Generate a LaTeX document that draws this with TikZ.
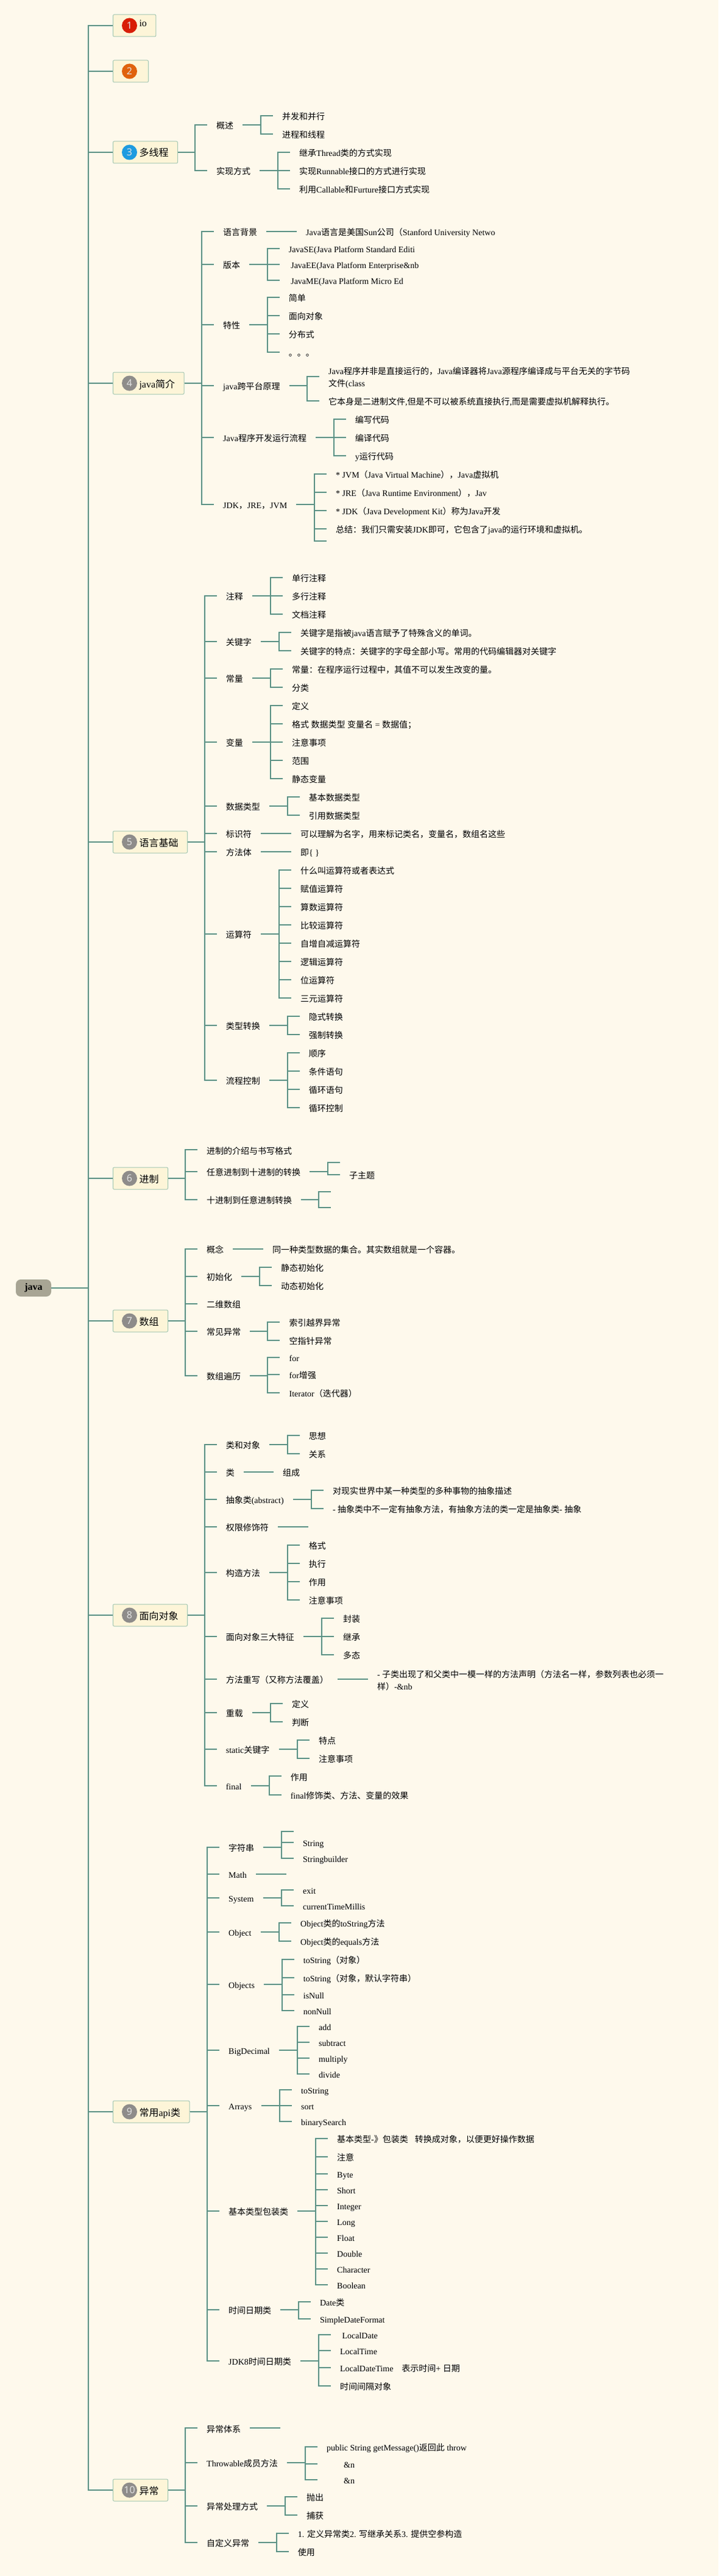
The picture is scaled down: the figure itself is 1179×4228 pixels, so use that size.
\documentclass[tikz,border=0pt]{standalone}
\usepackage{fontspec}
\setmainfont{Liberation Serif}
\newfontfamily\cjkfont{Noto Sans CJK SC}
\newfontfamily\digitfont{Noto Sans}
% chinese characters switch to the cjk font by themselves
\XeTeXinterchartokenstate=1
\newXeTeXintercharclass\cjkclass
\newcount\cjkcode
\cjkcode="2E80 \loop \XeTeXcharclass\cjkcode=\cjkclass \ifnum\cjkcode<"9FFF \advance\cjkcode by 1 \repeat
\cjkcode="FF00 \loop \XeTeXcharclass\cjkcode=\cjkclass \ifnum\cjkcode<"FFEF \advance\cjkcode by 1 \repeat
\XeTeXinterchartoks 0 \cjkclass={\cjkfont}
\XeTeXinterchartoks 4095 \cjkclass={\cjkfont}
\XeTeXinterchartoks \cjkclass 0={\rmfamily}
\XeTeXinterchartoks \cjkclass 4095={\rmfamily}
\definecolor{paper}{HTML}{FEF9EC}
\definecolor{linkcol}{HTML}{5B9184}
\definecolor{boxfill}{HTML}{FDF5D8}
\definecolor{boxline}{HTML}{A3C6B2}
\definecolor{rootfill}{HTML}{A8A594}
\definecolor{gray1}{HTML}{8E8C8A}
\definecolor{red1}{HTML}{D81E06}
\definecolor{orange1}{HTML}{E0620D}
\definecolor{blue1}{HTML}{1E9BE0}
\tikzset{
	link/.style={draw=linkcol,line width=2pt},
	item/.style={anchor=west,inner xsep=15pt,inner ysep=0pt,text height=15pt,text depth=1.4pt,font=\fontsize{14}{20}\selectfont,text=black},
	itemtwo/.style={anchor=west,inner xsep=15pt,inner ysep=0pt,align=left,font=\fontsize{14}{20}\selectfont,text=black},
	topic/.style={anchor=west,draw=boxline,line width=1pt,fill=boxfill,rounded corners=2pt,minimum height=36pt,inner xsep=15pt,inner ysep=0pt,text height=16pt,text depth=2pt,font=\fontsize{16}{20}\selectfont,execute at begin node={\hspace*{28pt}}},
	badge/.style={circle,minimum size=25pt,inner sep=0pt,text=white!88!black,font=\digitfont\fontsize{16}{16}\selectfont},
	rootbox/.style={fill=rootfill,rounded corners=8pt,minimum width=58pt,minimum height=28pt,inner sep=0pt,font=\bfseries\fontsize{16}{20}\selectfont}
}
\def\branch(#1)(#2){\foreach \kid in {#2}{\draw[link] (#1.east) -| ([xshift=-20pt]\kid.west) -- (\kid.west);}}

\begin{document}
\begin{tikzpicture}[x=1pt,y=-1pt]
	\fill[paper] (0,0) rectangle (1179,4228);
	\useasboundingbox (0,0) rectangle (1179,4228);

	%%%%% ROOT AND TOPICS %%%%%
	\node[rootbox] (root) at (55,2114) {java};
	\node[topic] (t1) at (185,42) {\raisebox{5pt}{io}};
	\node[topic] (t2) at (185,117) {};
	\node[topic] (t3) at (185,250) {多线程};
	\node[topic] (t4) at (185,629) {java简介};
	\node[topic] (t5) at (185,1382) {语言基础};
	\node[topic] (t6) at (185,1934) {进制};
	\node[topic] (t7) at (185,2168) {数组};
	\node[topic] (t8) at (185,2651) {面向对象};
	\node[topic] (t9) at (185,3466) {常用api类};
	\node[topic] (t10) at (185,4087) {异常};

	\node[badge,fill=red1] (n1) at ([xshift=27.5pt]t1.west) {1};
	\node[badge,fill=orange1] (n2) at ([xshift=27.5pt]t2.west) {2};
	\node[badge,fill=blue1] (n3) at ([xshift=27.5pt]t3.west) {3};
	\foreach \i in {4,...,10}
		\node[badge,fill=gray1] (n\i) at ([xshift=27.5pt]t\i.west) {\i};

	\foreach \kid in {t1,t2,t3,t4,t5,t6,t7,t8,t9,t10}
		\draw[link] (root.east) -| ([xshift=-40pt]\kid.west) -- (\kid.west);

	%%%%% 3 %%%%%
	\node[item] (t3a) at (340,204.7) {概述};
	\node[item] (t3b) at (340,280) {实现方式};
	\node[item] (t3a1) at (448,189.7) {并发和并行};
	\node[item] (t3a2) at (448,220) {进程和线程};
	\node[item] (t3b1) at (476,249.7) {继承Thread类的方式实现};
	\node[item] (t3b2) at (476,280) {实现Runnable接口的方式进行实现};
	\node[item] (t3b3) at (476,310) {利用Callable和Furture接口方式实现};
	\branch(t3)(t3a,t3b)
	\branch(t3a)(t3a1,t3a2)
	\branch(t3b)(t3b1,t3b2,t3b3)

	%%%%% 4 %%%%%
	\node[item] (t4a) at (351,380) {语言背景};
	\node[item] (t4b) at (351,433.6) {版本};
	\node[item] (t4c) at (351,532.9) {特性};
	\node[item] (t4d) at (351,632.9) {java跨平台原理};
	\node[item] (t4e) at (351,717.9) {Java程序开发运行流程};
	\node[item] (t4f) at (351,827.9) {JDK，JRE，JVM};
	\node[item] (t4a1) at (487,380) {Java语言是美国Sun公司（Stanford University Netwo};
	\node[item] (t4b1) at (458.6,407.5) {JavaSE(Java Platform Standard Editi};
	\node[item] (t4b2) at (458.6,433.6) {\ JavaEE(Java Platform Enterprise\&nb};
	\node[item] (t4b3) at (458.6,459.6) {\ JavaME(Java Platform Micro Ed};
	\node[item] (t4c1) at (458.6,487.9) {简单};
	\node[item] (t4c2) at (458.6,517.9) {面向对象};
	\node[item] (t4c3) at (458.6,547.9) {分布式};
	\node[item] (t4c4) at (458.6,577.5) {。。。};
	\node[itemtwo] (t4d1) at (524,620) {Java程序并非是直接运行的，Java编译器将Java源程序编译成与平台无关的字节码\\文件(class};
	\node[item] (t4d2) at (524,657.9) {它本身是二进制文件,但是不可以被系统直接执行,而是需要虚拟机解释执行。};
	\node[item] (t4e1) at (567.7,687.5) {编写代码};
	\node[item] (t4e2) at (567.7,717.9) {编译代码};
	\node[item] (t4e3) at (567.7,747.9) {y运行代码};
	\node[item] (t4f1) at (536,777.5) {* JVM（Java Virtual Machine），Java虚拟机};
	\node[item] (t4f2) at (536,807.9) {* JRE（Java Runtime Environment），Jav};
	\node[item] (t4f3) at (536,837.9) {* JDK（Java Development Kit）称为Java开发};
	\node[item] (t4f4) at (536,867.9) {总结：我们只需安装JDK即可，它包含了java的运行环境和虚拟机。};
	\coordinate (t4f5) at (536,887.5);
	\branch(t4)(t4a,t4b,t4c,t4d,t4e,t4f)
	\branch(t4a)(t4a1)
	\branch(t4b)(t4b1,t4b2,t4b3)
	\branch(t4c)(t4c1,t4c2,t4c3,t4c4)
	\branch(t4d)(t4d2)
	\draw[link] (t4d.east) -| ([xshift=-20pt,yshift=2.5pt]t4d1.west) -- ([yshift=2.5pt]t4d1.west);
	\branch(t4e)(t4e1,t4e2,t4e3)
	\branch(t4f)(t4f1,t4f2,t4f3,t4f4)
	\draw[link] (t4f.east) -| ([xshift=-20pt]t4f5) -- (t4f5);

	%%%%% 5 %%%%%
	\node[item] (t5a) at (355.6,977.7) {注释};
	\node[item] (t5b) at (355.6,1052.7) {关键字};
	\node[item] (t5c) at (355.6,1112.7) {常量};
	\node[item] (t5d) at (355.6,1217.7) {变量};
	\node[item] (t5e) at (355.6,1322.7) {数据类型};
	\node[item] (t5f) at (355.6,1367.7) {标识符};
	\node[item] (t5g) at (355.6,1397.7) {方法体};
	\node[item] (t5h) at (355.6,1532.7) {运算符};
	\node[item] (t5i) at (355.6,1682.7) {类型转换};
	\node[item] (t5j) at (355.6,1772.7) {流程控制};
	\node[item] (t5a1) at (464,947.7) {单行注释};
	\node[item] (t5a2) at (464,977.7) {多行注释};
	\node[item] (t5a3) at (464,1007.7) {文档注释};
	\node[item] (t5b1) at (478,1037.7) {关键字是指被java语言赋予了特殊含义的单词。};
	\node[item] (t5b2) at (478,1067.7) {关键字的特点：关键字的字母全部小写。常用的代码编辑器对关键字};
	\node[item] (t5c1) at (464,1097.7) {常量：在程序运行过程中，其值不可以发生改变的量。};
	\node[item] (t5c2) at (464,1127.7) {分类};
	\node[item] (t5d1) at (464,1157.7) {定义};
	\node[item] (t5d2) at (464,1187.7) {格式 数据类型 变量名 = 数据值；};
	\node[item] (t5d3) at (464,1217.7) {注意事项};
	\node[item] (t5d4) at (464,1247.7) {范围};
	\node[item] (t5d5) at (464,1277.7) {静态变量};
	\node[item] (t5e1) at (491.7,1307.7) {基本数据类型};
	\node[item] (t5e2) at (491.7,1337.7) {引用数据类型};
	\node[item] (t5f1) at (478,1367.7) {可以理解为名字，用来标记类名，变量名，数组名这些};
	\node[item] (t5g1) at (478,1397.7) {即\{ \}};
	\node[item] (t5h1) at (478,1427.7) {什么叫运算符或者表达式};
	\node[item] (t5h2) at (478,1457.7) {赋值运算符};
	\node[item] (t5h3) at (478,1487.7) {算数运算符};
	\node[item] (t5h4) at (478,1517.7) {比较运算符};
	\node[item] (t5h5) at (478,1547.7) {自增自减运算符};
	\node[item] (t5h6) at (478,1577.7) {逻辑运算符};
	\node[item] (t5h7) at (478,1607.7) {位运算符};
	\node[item] (t5h8) at (478,1637.7) {三元运算符};
	\node[item] (t5i1) at (491.7,1667.7) {隐式转换};
	\node[item] (t5i2) at (491.7,1697.7) {强制转换};
	\node[item] (t5j1) at (491.7,1727.7) {顺序};
	\node[item] (t5j2) at (491.7,1757.7) {条件语句};
	\node[item] (t5j3) at (491.7,1787.7) {循环语句};
	\node[item] (t5j4) at (491.7,1817.7) {循环控制};
	\branch(t5)(t5a,t5b,t5c,t5d,t5e,t5f,t5g,t5h,t5i,t5j)
	\branch(t5a)(t5a1,t5a2,t5a3)
	\branch(t5b)(t5b1,t5b2)
	\branch(t5c)(t5c1,t5c2)
	\branch(t5d)(t5d1,t5d2,t5d3,t5d4,t5d5)
	\branch(t5e)(t5e1,t5e2)
	\branch(t5f)(t5f1)
	\branch(t5g)(t5g1)
	\branch(t5h)(t5h1,t5h2,t5h3,t5h4,t5h5,t5h6,t5h7,t5h8)
	\branch(t5i)(t5i1,t5i2)
	\branch(t5j)(t5j1,t5j2,t5j3,t5j4)

	%%%%% 6 %%%%%
	\node[item] (t6a) at (324,1887.3) {进制的介绍与书写格式};
	\node[item] (t6b) at (324,1922.7) {任意进制到十进制的转换};
	\node[item] (t6c) at (324,1969) {十进制到任意进制转换};
	\coordinate (t6b1) at (558,1908);
	\node[item] (t6b2) at (558,1928) {子主题};
	\coordinate (t6c1) at (543,1955.7);
	\coordinate (t6c2) at (543,1981.7);
	\branch(t6)(t6a,t6b,t6c)
	\branch(t6b)(t6b2)
	\draw[link] (t6b.east) -| ([xshift=-20pt]t6b1) -- (t6b1);
	\draw[link] (t6c.east) -| ([xshift=-20pt]t6c1) -- (t6c1);
	\draw[link] (t6c.east) -| ([xshift=-20pt]t6c2) -- (t6c2);

	%%%%% 7 %%%%%
	\node[item] (t7a) at (324,2049.7) {概念};
	\node[item] (t7b) at (324,2094.7) {初始化};
	\node[item] (t7c) at (324,2139.7) {二维数组};
	\node[item] (t7d) at (324,2184.7) {常见异常};
	\node[item] (t7e) at (324,2257.7) {数组遍历};
	\node[item] (t7a1) at (432,2049.7) {同一种类型数据的集合。其实数组就是一个容器。};
	\node[item] (t7b1) at (446,2079.7) {静态初始化};
	\node[item] (t7b2) at (446,2109.7) {动态初始化};
	\node[item] (t7d1) at (459.4,2169.7) {索引越界异常};
	\node[item] (t7d2) at (459.4,2199.7) {空指针异常};
	\node[item] (t7e1) at (459.4,2227.7) {for};
	\node[item] (t7e2) at (459.4,2255.7) {for增强};
	\node[item] (t7e3) at (459.4,2285.7) {Iterator（迭代器）};
	\branch(t7)(t7a,t7b,t7c,t7d,t7e)
	\branch(t7a)(t7a1)
	\branch(t7b)(t7b1,t7b2)
	\branch(t7d)(t7d1,t7d2)
	\branch(t7e)(t7e1,t7e2,t7e3)

	%%%%% 8 %%%%%
	\node[item] (t8a) at (355.6,2370.8) {类和对象};
	\node[item] (t8b) at (355.6,2415.9) {类};
	\node[item] (t8c) at (355.6,2460.9) {抽象类(abstract)};
	\node[item] (t8d) at (355.6,2505.9) {权限修饰符};
	\node[item] (t8e) at (355.6,2580.8) {构造方法};
	\node[item] (t8f) at (355.6,2685.6) {面向对象三大特征};
	\node[item] (t8g) at (355.6,2755.5) {方法重写（又称方法覆盖）};
	\node[item] (t8h) at (355.6,2810.6) {重载};
	\node[item] (t8i) at (355.6,2870.8) {static关键字};
	\node[item] (t8j) at (355.6,2930.6) {final};
	\node[item] (t8a1) at (491.7,2355.7) {思想};
	\node[item] (t8a2) at (491.7,2386) {关系};
	\node[item] (t8b1) at (449,2415.9) {组成};
	\node[item] (t8c1) at (530.8,2445.7) {对现实世界中某一种类型的多种事物的抽象描述};
	\node[item] (t8c2) at (530.8,2475.6) {- 抽象类中不一定有抽象方法，有抽象方法的类一定是抽象类- 抽象};
	\coordinate (t8d1) at (506,2505.9);
	\node[item] (t8e1) at (491.7,2535.8) {格式};
	\node[item] (t8e2) at (491.7,2565.7) {执行};
	\node[item] (t8e3) at (491.7,2596) {作用};
	\node[item] (t8e4) at (491.7,2625.9) {注意事项};
	\node[item] (t8f1) at (548,2655.8) {封装};
	\node[item] (t8f2) at (548,2685.6) {继承};
	\node[item] (t8f3) at (548,2715.5) {多态};
	\node[itemtwo] (t8g1) at (603.8,2758) {- 子类出现了和父类中一模一样的方法声明（方法名一样，参数列表也必须一\\样）-\&nb};
	\node[item] (t8h1) at (464,2795.9) {定义};
	\node[item] (t8h2) at (464,2825.8) {判断};
	\node[item] (t8i1) at (508,2855.7) {特点};
	\node[item] (t8i2) at (508,2886) {注意事项};
	\node[item] (t8j1) at (461.6,2915.4) {作用};
	\node[item] (t8j2) at (461.6,2945.7) {final修饰类、方法、变量的效果};
	\branch(t8)(t8a,t8b,t8c,t8d,t8e,t8f,t8g,t8h,t8i,t8j)
	\branch(t8a)(t8a1,t8a2)
	\branch(t8b)(t8b1)
	\branch(t8c)(t8c1,t8c2)
	\draw[link] (t8d.east) -- (t8d1);
	\branch(t8e)(t8e1,t8e2,t8e3,t8e4)
	\branch(t8f)(t8f1,t8f2,t8f3)
	\draw[link] (t8g.east) -- ([yshift=2.5pt]t8g1.west);
	\branch(t8h)(t8h1,t8h2)
	\branch(t8i)(t8i1,t8i2)
	\branch(t8j)(t8j1,t8j2)

	%%%%% 9 %%%%%
	\node[item] (t9a) at (360,3031.8) {字符串};
	\node[item] (t9b) at (360,3075.7) {Math};
	\node[item] (t9c) at (360,3114.8) {System};
	\node[item] (t9d) at (360,3171) {Object};
	\node[item] (t9e) at (360,3256.8) {Objects};
	\node[item] (t9f) at (360,3364.7) {BigDecimal};
	\node[item] (t9g) at (360,3455.7) {Arrays};
	\node[item] (t9h) at (360,3628.6) {基本类型包装类};
	\node[item] (t9i) at (360,3790.6) {时间日期类};
	\node[item] (t9j) at (360,3874.8) {JDK8时间日期类};
	\coordinate (t9a0) at (482,3005.7);
	\node[item] (t9a1) at (482,3023.9) {String};
	\node[item] (t9a2) at (482,3050) {Stringbuilder};
	\coordinate (t9b1) at (470,3075.7);
	\node[item] (t9c1) at (482,3101.8) {exit};
	\node[item] (t9c2) at (482,3127.9) {currentTimeMillis};
	\node[item] (t9d1) at (478,3156) {Object类的toString方法};
	\node[item] (t9d2) at (478,3186) {Object类的equals方法};
	\node[item] (t9e1) at (482.7,3215.7) {toString（对象）};
	\node[item] (t9e2) at (482.7,3245.7) {toString（对象，默认字符串）};
	\node[item] (t9e3) at (482.7,3273.8) {isNull};
	\node[item] (t9e4) at (482.7,3299.9) {nonNull};
	\node[item] (t9f1) at (508,3325.6) {add};
	\node[item] (t9f2) at (508,3351.7) {subtract};
	\node[item] (t9f3) at (508,3377.8) {multiply};
	\node[item] (t9f4) at (508,3403.9) {divide};
	\node[item] (t9g1) at (479,3430) {toString};
	\node[item] (t9g2) at (479,3455.7) {sort};
	\node[item] (t9g3) at (479,3481.8) {binarySearch};
	\node[item] (t9h1) at (538,3509.5) {基本类型-》包装类\hspace{11pt}转换成对象，以便更好操作数据};
	\node[item] (t9h2) at (538,3539.5) {注意};
	\node[item] (t9h3) at (538,3568) {Byte};
	\node[item] (t9h4) at (538,3593.7) {Short};
	\node[item] (t9h5) at (538,3619.7) {Integer};
	\node[item] (t9h6) at (538,3645.7) {Long};
	\node[item] (t9h7) at (538,3671.8) {Float};
	\node[item] (t9h8) at (538,3697.8) {Double};
	\node[item] (t9h9) at (538,3723.9) {Character};
	\node[item] (t9h10) at (538,3749.9) {Boolean};
	\node[item] (t9i1) at (509.8,3777.6) {Date类};
	\node[item] (t9i2) at (509.8,3805.6) {SimpleDateFormat};
	\node[item] (t9j1) at (542.9,3831.7) {\ LocalDate};
	\node[item] (t9j2) at (542.9,3857.7) {LocalTime};
	\node[item] (t9j3) at (542.9,3885.8) {LocalDateTime\hspace{14pt}表示时间+ 日期};
	\node[item] (t9j4) at (542.9,3915.9) {时间间隔对象};
	\branch(t9)(t9a,t9b,t9c,t9d,t9e,t9f,t9g,t9h,t9i,t9j)
	\branch(t9a)(t9a1,t9a2)
	\draw[link] (t9a.east) -| ([xshift=-20pt]t9a0) -- (t9a0);
	\draw[link] (t9b.east) -- (t9b1);
	\branch(t9c)(t9c1,t9c2)
	\branch(t9d)(t9d1,t9d2)
	\branch(t9e)(t9e1,t9e2,t9e3,t9e4)
	\branch(t9f)(t9f1,t9f2,t9f3,t9f4)
	\branch(t9g)(t9g1,t9g2,t9g3)
	\branch(t9h)(t9h1,t9h2,t9h3,t9h4,t9h5,t9h6,t9h7,t9h8,t9h9,t9h10)
	\branch(t9i)(t9i1,t9i2)
	\branch(t9j)(t9j1,t9j2,t9j3,t9j4)

	%%%%% 10 %%%%%
	\node[item] (t10a) at (324,3985.4) {异常体系};
	\node[item] (t10b) at (324,4041.6) {Throwable成员方法};
	\node[item] (t10c) at (324,4112.8) {异常处理方式};
	\node[item] (t10d) at (324,4172.6) {自定义异常};
	\coordinate (t10a1) at (460,3985.4);
	\node[item] (t10b1) at (521,4015.6) {public String getMessage()返回此 throw};
	\node[item] (t10b2) at (521,4043.6) {\hspace*{28pt}\&n};
	\node[item] (t10b3) at (521,4069.6) {\hspace*{28pt}\&n};
	\node[item] (t10c1) at (488,4097.7) {抛出};
	\node[item] (t10c2) at (488,4127.8) {捕获};
	\node[item] (t10d1) at (473.7,4158) {1. 定义异常类2. 写继承关系3. 提供空参构造};
	\node[item] (t10d2) at (473.7,4187.6) {使用};
	\branch(t10)(t10a,t10b,t10c,t10d)
	\draw[link] (t10a.east) -- (t10a1);
	\branch(t10b)(t10b1,t10b2,t10b3)
	\branch(t10c)(t10c1,t10c2)
	\branch(t10d)(t10d1,t10d2)
\end{tikzpicture}
\end{document}
